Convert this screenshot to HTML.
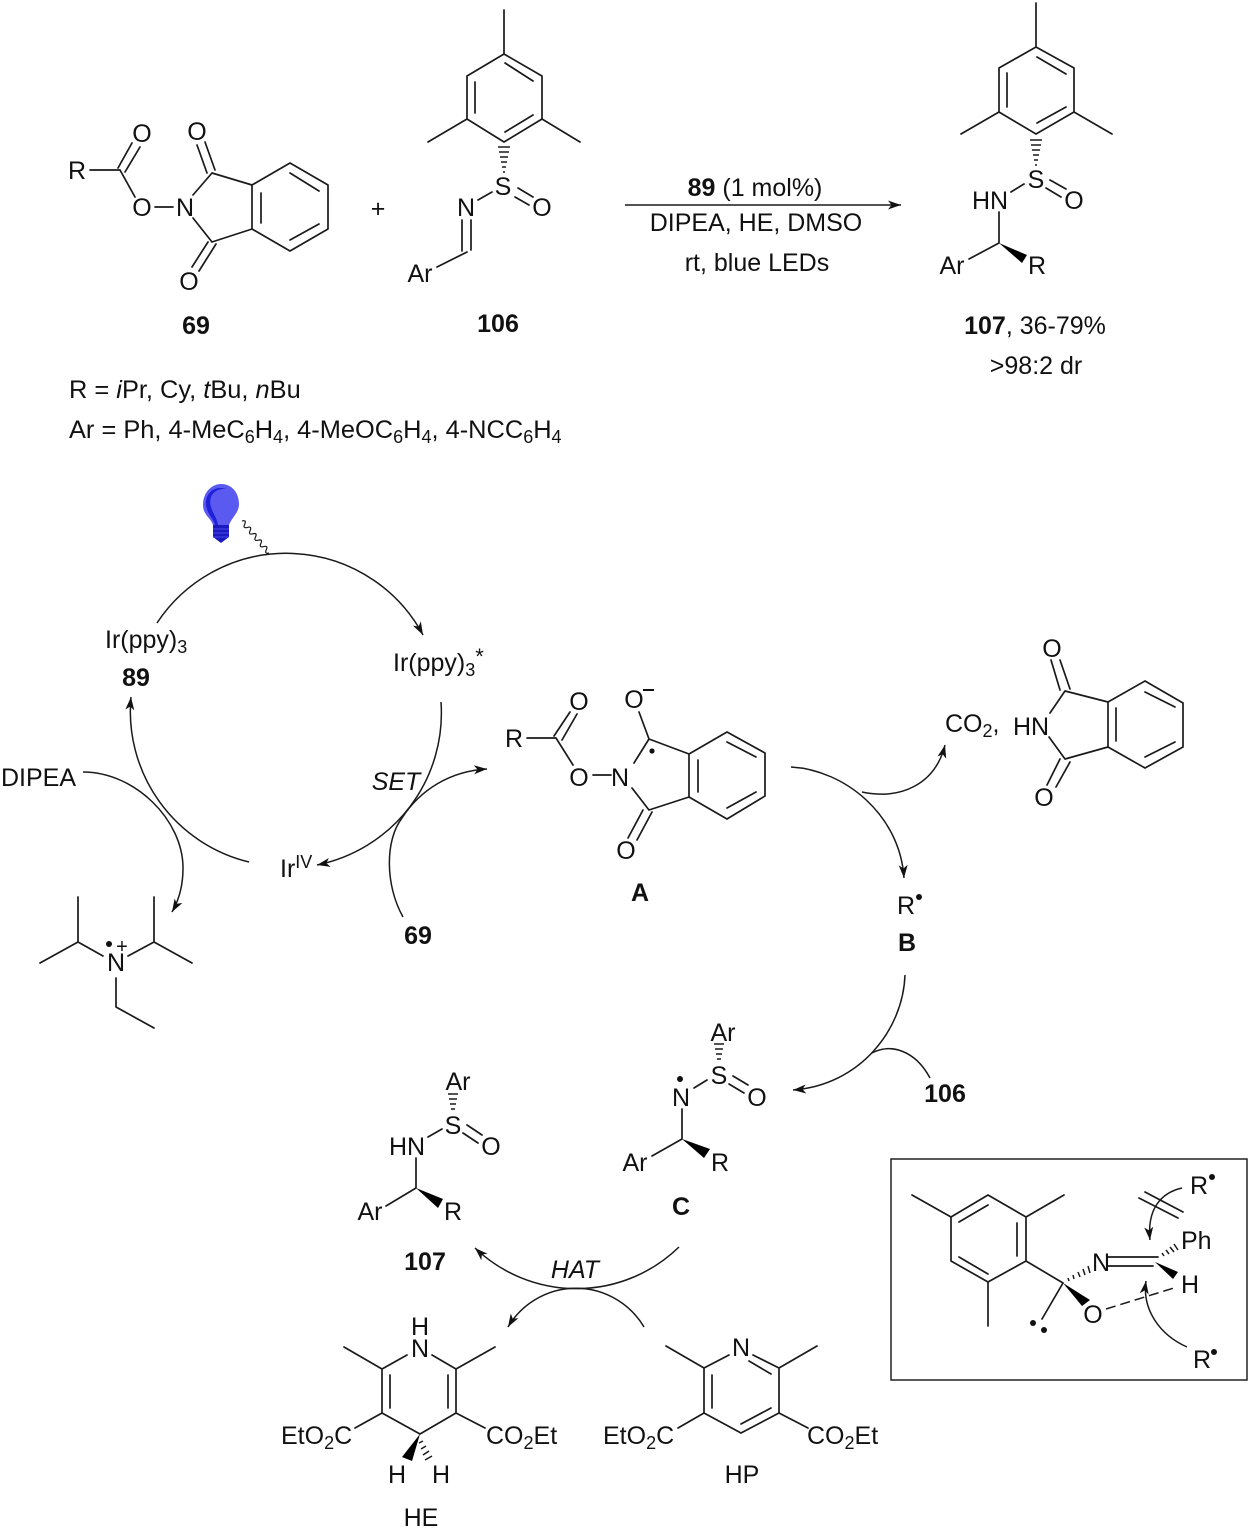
<!DOCTYPE html>
<html><head><meta charset="utf-8"><style>
html,body{margin:0;padding:0;background:#fff}
svg{display:block}
text{font-family:"Liberation Sans",Arial,sans-serif;font-size:25px;fill:#111}
.m{text-anchor:middle}
.b{font-weight:bold}
.i{font-style:italic}
.l{fill:none;stroke:#1a1a1a;stroke-width:1.7;stroke-linecap:round;stroke-linejoin:round}
.h{fill:none;stroke:#1a1a1a;stroke-width:1.5}
.a{fill:none;stroke:#1a1a1a;stroke-width:1.5;marker-end:url(#ah)}
.n{fill:none;stroke:#1a1a1a;stroke-width:1.5}
.w{fill:#000;stroke:none}
</style></head><body>
<svg xmlns="http://www.w3.org/2000/svg" width="1250" height="1529" viewBox="0 0 1250 1529">
<defs><marker id="ah" markerUnits="userSpaceOnUse" orient="auto" markerWidth="15" markerHeight="10" refX="13" refY="4.5" overflow="visible"><path d="M0,0 L13,4.5 L0,9 L3.5,4.5 Z" fill="#111"/></marker></defs>

<!-- 69 -->
<path class="l" d="M90,170H120M118,168L132,143M125,172L140,147M120,170L135,197M155,207H173M193,195L212,173M193,218L212,242M212,173L252,185L290,163L328,185V229L290,251L252,229L212,242M252,185V229M261,193V223M290,173L319,191M290,240L319,224M207,173L197,145M215,170L205,142M208,242L192,267M216,244L199,271"/>
<text class="m" x="77" y="179">R</text><text class="m" x="142" y="142">O</text><text class="m" x="142" y="216">O</text><text class="m" x="185" y="216">N</text><text class="m" x="197" y="140">O</text><text class="m" x="189" y="290">O</text>
<text class="m" x="378" y="217">+</text>

<!-- 106 -->
<path class="l" d="M504,10V54L542,76V119L504,142L467,119V76L504,54M467,119L428,142M542,119L580,142M505,63L533,81M475,82V113M505,132L533,115M518,188L533,197M515,197L529,205M492,192L478,200M462,220V251M471,220V250M467,252L437,267"/>
<path class="h" d="M498,147H510M499,152H509M500,157H508M501,162H507M502,167H506M503,172H505"/>
<text class="m" x="503" y="195">S</text><text class="m" x="542" y="216">O</text><text class="m" x="466" y="216">N</text><text class="m" x="420" y="282">Ar</text>
<text class="m b" x="196" y="334">69</text><text class="m b" x="498" y="332">106</text>

<!-- reaction arrow -->
<path class="a" d="M625,205H901"/>
<text class="m" x="755" y="196"><tspan class="b">89</tspan> (1 mol%)</text>
<text class="m" x="756" y="231">DIPEA, HE, DMSO</text>
<text class="m" x="757" y="271">rt, blue LEDs</text>

<!-- 107 product -->
<path class="l" d="M1036,3V47L1074,68V112L1036,134L999,112V68L1036,47M999,112L961,134M1074,112L1112,134M1037,57L1066,74M1007,73V107M1037,123L1066,107M1050,180L1066,189M1046,188L1061,197M1024,184L1011,192M999,212V243L969,259"/>
<path class="h" d="M1030,140H1042M1031,145H1041M1032,150H1040M1033,155H1039M1034,160H1038M1035,165H1037"/>
<path class="w" d="M999,243L1027,255L1022,263Z"/>
<text class="m" x="1036" y="188">S</text><text class="m" x="1074" y="209">O</text><text class="m" x="990" y="209">HN</text><text class="m" x="952" y="274">Ar</text><text class="m" x="1037" y="274">R</text>
<text class="m" x="1035" y="334"><tspan class="b">107</tspan>, 36-79%</text>
<text class="m" x="1036" y="374">&gt;98:2 dr</text>

<!-- R / Ar lines -->
<text x="69" y="398" style="font-size:25.4px">R = <tspan class="i">i</tspan>Pr, Cy, <tspan class="i">t</tspan>Bu, <tspan class="i">n</tspan>Bu</text>
<text x="69" y="438" style="font-size:25.4px">Ar = Ph, 4-MeC<tspan dy="5" font-size="18">6</tspan><tspan dy="-5">H</tspan><tspan dy="5" font-size="18">4</tspan><tspan dy="-5">, 4-MeOC</tspan><tspan dy="5" font-size="18">6</tspan><tspan dy="-5">H</tspan><tspan dy="5" font-size="18">4</tspan><tspan dy="-5">, 4-NCC</tspan><tspan dy="5" font-size="18">6</tspan><tspan dy="-5">H</tspan><tspan dy="5" font-size="18">4</tspan></text>

<!-- bulb -->
<path d="M203,505C203,492 212,484 221,484C232,484 239,493 239,504C239,513 232,517 229,525H213C211,518 203,515 203,505Z" fill="#5a5af0"/>
<path d="M226,489C214,488 208,497 211,507C213,514 217,518 218,525H215C214,519 207,514 206,505C205,494 214,485 226,489Z" fill="#2020d8"/>
<path d="M213,525H229V537L221,543L213,537Z" fill="#1a1ac0"/>
<path d="M213,529H229M213,533H229M213,537H229" stroke="#5a5af0" stroke-width="0.8" fill="none"/>
<path class="n" style="stroke-width:1.2" d="M242,521c3.2,-0.9 4.1,0.2 2.7,3.2c-1.4,2.9 -0.5,4 2.7,3.2c3.2,-0.9 4.1,0.2 2.7,3.2c-1.4,2.9 -0.5,4 2.7,3.2c3.2,-0.9 4.1,0.2 2.7,3.2c-1.4,2.9 -0.5,4 2.7,3.2c3.2,-0.9 4.1,0.2 2.7,3.2c-1.4,2.9 -0.5,4 2.7,3.2c3.2,-0.9 4.1,0.2 2.7,3.2c-1.4,2.9 -0.5,4 2.7,3.2"/>

<!-- cycle -->
<path class="a" d="M157,623A155,155 0 0 1 423,635"/>
<path class="a" d="M441,702A155,155 0 0 1 317,865"/>
<path class="a" d="M249,862A155,155 0 0 1 131,697"/>
<path class="a" d="M83,772C135,772 183,820 183,868C183,885 179,900 172,912"/>
<path class="a" d="M403,917C385,885 385,840 402,818C420,790 450,771 487,769"/>
<text x="105" y="648">Ir(ppy)<tspan dy="5" font-size="18">3</tspan></text>
<text class="m b" x="136" y="686">89</text>
<text x="393" y="671">Ir(ppy)<tspan dy="5" font-size="18">3</tspan><tspan dy="-12" font-size="22">*</tspan></text>
<text x="1" y="786">DIPEA</text>
<text class="m i" x="396" y="790">SET</text>
<text x="280" y="877">Ir<tspan dy="-9" font-size="18">IV</tspan></text>
<text class="m b" x="418" y="944">69</text>

<!-- DIPEA radical cation -->
<path class="l" d="M78,897V942L40,963M78,942L103,956M128,956L154,942V897M154,942L192,963M116,978V1007L154,1028"/>
<text class="m" x="116" y="971">N</text><circle cx="109" cy="944" r="3" fill="#111"/><text class="m" x="122" y="953" font-size="20" style="font-size:20px">+</text>

<!-- A -->
<path class="l" d="M527,738H556M554,736L570,712M562,740L577,714M556,738L573,765M593,775H611M634,763L649,739L639,712M649,739L689,754L727,732L765,753V796L727,819L689,797L649,810L632,788M689,754V797M698,760V792M727,742L756,757M727,808L756,792M643,810L628,838M652,812L637,840"/>
<text class="m" x="514" y="747">R</text><text class="m" x="579" y="710">O</text><text class="m" x="579" y="786">O</text><text class="m" x="620" y="786">N</text><text class="m" x="634" y="708">O</text><path d="M643,690H654" stroke="#111" stroke-width="2"/><circle cx="652" cy="751" r="2.6" fill="#111"/><text class="m" x="626" y="859">O</text>
<text class="m b" x="640" y="901">A</text>

<!-- A to B -->
<path class="a" d="M791,767C845,770 900,815 904,878"/>
<path class="a" d="M862,792C900,800 935,785 945,745"/>
<text x="945" y="732">CO<tspan dy="5" font-size="18">2</tspan><tspan dy="-5">,</tspan></text>
<text class="m" x="1031" y="735">HN</text>
<path class="l" d="M1050,713L1065,691L1108,702L1145,681L1183,703V747L1145,768L1108,747L1065,759L1049,737M1108,702V747M1116,708V741M1145,692L1175,707M1145,757L1175,742M1060,690L1051,660M1070,689L1060,660M1060,759L1047,785M1070,762L1056,787"/>
<text class="m" x="1052" y="657">O</text><text class="m" x="1044" y="806">O</text>
<text class="m" x="906" y="914">R</text><circle cx="919" cy="897" r="3" fill="#111"/>
<text class="m b" x="907" y="951">B</text>

<!-- B to C -->
<path class="a" d="M905,975C903,1030 860,1085 793,1090"/>
<path class="n" d="M930,1078C915,1050 890,1043 872,1053"/>
<text class="m b" x="945" y="1102">106</text>

<!-- C -->
<path class="l" d="M733,1076L748,1085M729,1084L744,1093M707,1080L694,1088M682,1109V1139L652,1156"/>
<path class="h" d="M714,1044H724M715,1049H723M716,1054H722M717,1059H721"/>
<path class="w" d="M682,1139L710,1149L704,1158Z"/>
<text class="m" x="723" y="1041">Ar</text><text class="m" x="719" y="1084">S</text><text class="m" x="681" y="1106">N</text><circle cx="680" cy="1079" r="3" fill="#111"/><text class="m" x="757" y="1106">O</text><text class="m" x="635" y="1171">Ar</text><text class="m" x="720" y="1171">R</text>
<text class="m b" x="681" y="1215">C</text>

<!-- 107 intermediate -->
<path class="l" d="M467,1125L482,1135M463,1133L478,1143M442,1129L428,1137M416,1158V1188L386,1206"/>
<path class="h" d="M448,1094H458M449,1099H457M450,1104H456M451,1109H455"/>
<path class="w" d="M416,1188L443,1199L438,1208Z"/>
<text class="m" x="458" y="1090">Ar</text><text class="m" x="453" y="1134">S</text><text class="m" x="491" y="1155">O</text><text class="m" x="407" y="1155">HN</text><text class="m" x="370" y="1220">Ar</text><text class="m" x="453" y="1220">R</text>
<text class="m b" x="425" y="1270">107</text>

<!-- HAT -->
<path class="a" d="M679,1247A147,147 0 0 1 475,1248"/>
<path class="a" d="M644,1327A79,79 0 0 0 508,1327"/>
<text class="m i" x="575" y="1278">HAT</text>

<!-- HE -->
<path class="l" d="M344,1347L382,1369L407,1355M432,1355L456,1369L495,1347M382,1369V1413L420,1434L456,1413V1369M390,1375V1408M448,1375V1408M382,1413L355,1428M456,1413L485,1428"/>
<path class="w" d="M420,1434L402,1457L412,1461Z"/>
<path class="h" d="M423,1441L419,1443M426,1446L421,1449M429,1451L423,1455M432,1456L425,1460"/>
<text class="m" x="420" y="1335">H</text><text class="m" x="420" y="1357">N</text>
<text x="281" y="1444">EtO<tspan dy="5" font-size="18">2</tspan><tspan dy="-5">C</tspan></text>
<text x="486" y="1444">CO<tspan dy="5" font-size="18">2</tspan><tspan dy="-5">Et</tspan></text>
<text class="m" x="397" y="1483">H</text><text class="m" x="441" y="1483">H</text>
<text class="m" x="421" y="1526">HE</text>

<!-- HP -->
<path class="l" d="M666,1346L704,1368L729,1355M753,1355L779,1368L817,1346M704,1368V1413L741,1433L779,1413V1368M749,1361L771,1374M712,1375V1408M741,1424L771,1408M704,1413L678,1428M779,1413L808,1428"/>
<text class="m" x="741" y="1356">N</text>
<text x="603" y="1444">EtO<tspan dy="5" font-size="18">2</tspan><tspan dy="-5">C</tspan></text>
<text x="807" y="1444">CO<tspan dy="5" font-size="18">2</tspan><tspan dy="-5">Et</tspan></text>
<text class="m" x="742" y="1483">HP</text>

<!-- box -->
<rect x="891" y="1159" width="356" height="221" fill="none" stroke="#222" stroke-width="1.5"/>
<path class="l" d="M988,1195L1026,1217V1261L988,1282L951,1261V1217ZM951,1217L912,1195M1026,1217L1064,1195M988,1282V1326M988,1205L959,1222M1017,1223V1256M959,1257L988,1274M1026,1261L1063,1283L1042,1319M1107,1257H1158M1107,1266H1153M1145,1192L1183,1212M1139,1198L1178,1218"/>
<path class="w" d="M1063,1283L1090,1300L1082,1306Z"/>
<path class="h" d="M1068,1278L1069,1281M1073,1275L1074,1279M1078,1272L1080,1277M1083,1269L1085,1275M1088,1266L1090,1273"/>
<path class="w" d="M1155,1262L1178,1272L1173,1279Z"/>
<path class="h" d="M1162,1253L1164,1256M1166,1250L1169,1254M1170,1247L1174,1252M1174,1244L1178,1250"/>
<path class="h" stroke-dasharray="10 5" d="M1106,1309L1177,1287"/>
<circle cx="1033" cy="1323" r="3" fill="#111"/><circle cx="1044" cy="1330" r="3" fill="#111"/>
<text class="m" x="1093" y="1323">O</text><text class="m" x="1101" y="1271">N</text><text x="1181" y="1249">Ph</text><text class="m" x="1190" y="1293">H</text>
<text class="m" x="1199" y="1194">R</text><circle cx="1212" cy="1177" r="3" fill="#111"/>
<text class="m" x="1202" y="1368">R</text><circle cx="1214" cy="1352" r="3" fill="#111"/>
<path class="a" d="M1182,1188C1160,1193 1147,1210 1150,1240"/>
<path class="a" d="M1187,1347C1160,1335 1142,1310 1146,1281"/>
</svg>
</body></html>
